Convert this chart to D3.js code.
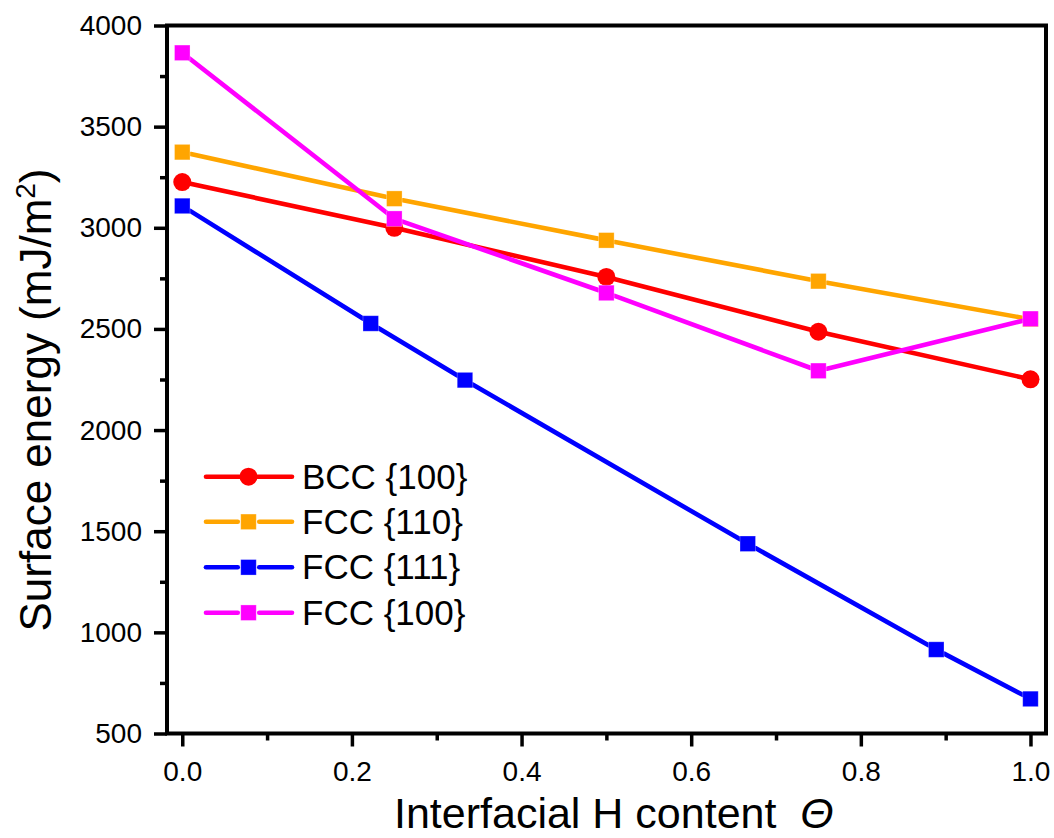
<!DOCTYPE html>
<html>
<head>
<meta charset="utf-8">
<script src="https://cdn.jsdelivr.net/npm/d3@7"></script>
<style>
  html, body { margin: 0; padding: 0; background: #fff; }
  svg { display: block; }
  text { font-family: "Liberation Sans", Arial, sans-serif; fill: #000; }
</style>
</head>
<body>
<svg id="chart" width="1054" height="838"></svg>
<script>
// ---- Data ----
const seriesNames = ["BCC {100}", "FCC {110}", "FCC {111}", "FCC {100}"];
const seriesColors = ["#ff0000", "#ffa500", "#0000ff", "#ff00ff"];
const seriesShapes = ["circle", "square", "square", "square"];

const bccX = [0, 0.25, 0.5, 0.75, 1.0];
const bccY = [3226, 3000, 2757, 2486, 2251];

const fcc110X = [0, 0.25, 0.5, 0.75, 1.0];
const fcc110Y = [3374, 3144, 2938, 2736, 2548];

const fcc111X = [0, 0.2222, 0.3333, 0.6667, 0.8889, 1.0];
const fcc111Y = [3108, 2527, 2247, 1438, 915, 671];

const fcc100X = [0, 0.25, 0.5, 0.75, 1.0];
const fcc100Y = [3865, 3045, 2678, 2293, 2550];

const xMajorTicks = [0, 0.2, 0.4, 0.6, 0.8, 1.0];
const xMinorTicks = [0.1, 0.3, 0.5, 0.7, 0.9];
const yMajorTicks = [500, 1000, 1500, 2000, 2500, 3000, 3500, 4000];
const yMinorTicks = [750, 1250, 1750, 2250, 2750, 3250, 3750];

const xTitle = "Interfacial H content";
const xSymbol = "Θ";
const yTitle = "Surface energy (mJ/m";

// ---- Layout ----
const L = 167, R = 1046, T = 25.5, B = 733.5;
const svg = d3.select("#chart");

const x = d3.scaleLinear().domain([-0.018, 1.0183]).range([L, R]);
const y = d3.scaleLinear().domain([500, 4000]).range([B, T]);

const fontFam = '"Liberation Sans", Arial, sans-serif';

// Axes
const yAxis = d3.axisLeft(y).tickValues(yMajorTicks).tickSize(13).tickPadding(12)
  .tickFormat(d3.format("d"));
const yAxisMinor = d3.axisLeft(y).tickValues(yMinorTicks).tickSize(7).tickFormat("");
const xAxis = d3.axisBottom(x).tickValues(xMajorTicks).tickSize(13).tickPadding(15)
  .tickFormat(d3.format(".1f"));
const xAxisMinor = d3.axisBottom(x).tickValues(xMinorTicks).tickSize(7).tickFormat("");

function styleAxis(g) {
  g.select(".domain").remove();
  g.selectAll(".tick line").attr("stroke", "#000").attr("stroke-width", 3.5);
  g.selectAll(".tick text").style("font-size", "28px").style("font-family", fontFam).attr("fill", "#000");
}

svg.append("g").attr("transform", `translate(${L},0)`).call(yAxisMinor).call(styleAxis);
svg.append("g").attr("transform", `translate(${L},0)`).call(yAxis).call(styleAxis);
svg.append("g").attr("transform", `translate(0,${B})`).call(xAxisMinor).call(styleAxis);
svg.append("g").attr("transform", `translate(0,${B})`).call(xAxis).call(styleAxis);

// Frame
svg.append("rect")
  .attr("x", L).attr("y", T).attr("width", R - L).attr("height", B - T)
  .attr("fill", "none").attr("stroke", "#000").attr("stroke-width", 4);

// Series
const allSeries = [
  { name: seriesNames[0], xs: bccX, ys: bccY, color: seriesColors[0], shape: seriesShapes[0] },
  { name: seriesNames[1], xs: fcc110X, ys: fcc110Y, color: seriesColors[1], shape: seriesShapes[1] },
  { name: seriesNames[2], xs: fcc111X, ys: fcc111Y, color: seriesColors[2], shape: seriesShapes[2] },
  { name: seriesNames[3], xs: fcc100X, ys: fcc100Y, color: seriesColors[3], shape: seriesShapes[3] }
];

const SQ = 15.5, CR = 9, LW = 4.6;

function drawMarker(g, cx, cy, s) {
  if (s.shape === "circle") {
    g.append("circle").attr("cx", cx).attr("cy", cy).attr("r", CR).attr("fill", s.color);
  } else {
    g.append("rect").attr("x", cx - SQ / 2).attr("y", cy - SQ / 2)
      .attr("width", SQ).attr("height", SQ).attr("fill", s.color)
      .attr("stroke", "#fff").attr("stroke-opacity", 0.35).attr("stroke-width", 0.8);
  }
}

allSeries.forEach(s => {
  const g = svg.append("g");
  const pts = s.xs.map((v, i) => [x(v), y(s.ys[i])]);
  const gap = s.shape === "square" ? 8.8 : 0;
  for (let i = 0; i < pts.length - 1; i++) {
    const [x0, y0] = pts[i], [x1, y1] = pts[i + 1];
    const dx = x1 - x0, dy = y1 - y0, len = Math.hypot(dx, dy);
    const ux = dx / len, uy = dy / len;
    g.append("line")
      .attr("x1", x0 + ux * gap).attr("y1", y0 + uy * gap)
      .attr("x2", x1 - ux * gap).attr("y2", y1 - uy * gap)
      .attr("stroke", s.color).attr("stroke-width", LW).attr("stroke-linecap", "round");
  }
  pts.forEach(([cx, cy]) => drawMarker(g, cx, cy, s));
});

// Legend
const legX0 = 206, legX1 = 292, legM = 248.5, legText = 302;
const legRows = [476.7, 521.8, 567.3, 612.7];
allSeries.forEach((s, i) => {
  const g = svg.append("g");
  const cy = legRows[i];
  if (s.shape === "circle") {
    g.append("line").attr("x1", legX0).attr("x2", legX1).attr("y1", cy).attr("y2", cy)
      .attr("stroke", s.color).attr("stroke-width", LW).attr("stroke-linecap", "round");
  } else {
    g.append("line").attr("x1", legX0).attr("x2", legM - SQ / 2 - 3).attr("y1", cy).attr("y2", cy)
      .attr("stroke", s.color).attr("stroke-width", LW).attr("stroke-linecap", "round");
    g.append("line").attr("x1", legM + SQ / 2 + 3).attr("x2", legX1).attr("y1", cy).attr("y2", cy)
      .attr("stroke", s.color).attr("stroke-width", LW).attr("stroke-linecap", "round");
  }
  drawMarker(g, legM, cy, s);
  g.append("text").attr("x", legText).attr("y", cy + 12)
    .style("font-size", "35px").text(s.name);
});

// Axis titles
const xt = svg.append("text").attr("x", 394).attr("y", 828).style("font-size", "43px");
xt.append("tspan").text(xTitle + "\u00a0\u00a0");
xt.append("tspan").style("font-style", "italic").text(xSymbol);

const yt = svg.append("text")
  .attr("transform", "translate(51,400) rotate(-90)")
  .attr("text-anchor", "middle").style("font-size", "44px");
yt.append("tspan").text(yTitle);
yt.append("tspan").attr("dy", -16).style("font-size", "28px").text("2");
yt.append("tspan").attr("dy", 16).text(")");
</script>
</body>
</html>
